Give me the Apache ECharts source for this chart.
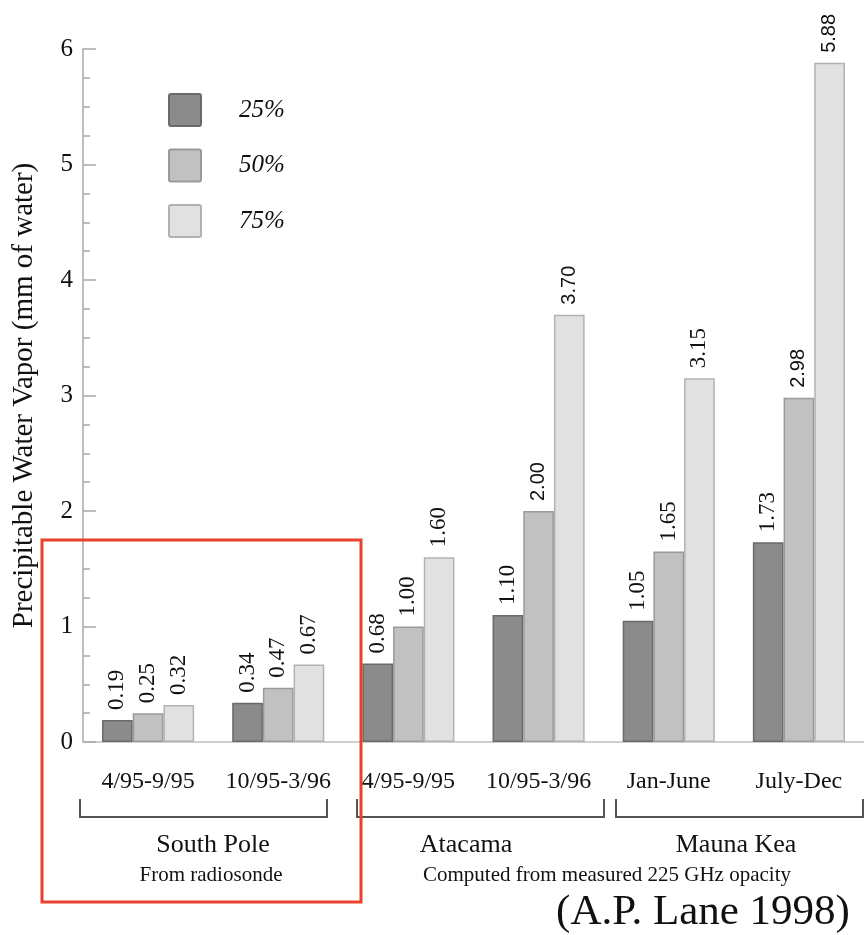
<!DOCTYPE html>
<html>
<head>
<meta charset="utf-8">
<script src="https://cdn.jsdelivr.net/npm/echarts@6/dist/echarts.min.js"></script>
<style>html,body{margin:0;padding:0;background:#fff}#c{width:864px;height:935px}</style>
</head>
<body>
<div id="c"></div>
<script>
const categories = ['4/95-9/95', '10/95-3/96', '4/95-9/95', '10/95-3/96', 'Jan-June', 'July-Dec'];
const seriesNames = ['25%', '50%', '75%'];
const p25 = [0.19, 0.34, 0.68, 1.10, 1.05, 1.73];
const p50 = [0.25, 0.47, 1.00, 2.00, 1.65, 2.98];
const p75 = [0.32, 0.67, 1.60, 3.70, 3.15, 5.88];
const yTicks = [0, 1, 2, 3, 4, 5, 6];

const SERIF = '"Liberation Serif", "Times New Roman", serif';
const SANS = '"Liberation Sans", Arial, sans-serif';
const fills = ['#8b8b8b', '#c1c1c1', '#e1e1e1'];
const borders = ['#6a6a6a', '#9a9a9a', '#b2b2b2'];
const sansIdx = [[], [3, 5], [3, 5]];

const chart = echarts.init(document.getElementById('c'), null, {renderer: 'canvas'});

function mkSeries(name, vals, k) {
  return {
    name: name,
    type: 'bar',
    barWidth: 30.7,
    barGap: '0%',
    data: vals.map((v, i) => sansIdx[k].includes(i)
      ? {value: v, label: {fontFamily: SANS, fontSize: 20}}
      : v),
    itemStyle: {color: fills[k], borderColor: borders[k], borderWidth: 1.5},
    label: {
      show: true,
      position: 'top',
      rotate: 90,
      align: 'left',
      verticalAlign: 'middle',
      distance: 10,
      fontFamily: SERIF,
      fontSize: 23,
      color: '#111',
      formatter: p => p.value.toFixed(2)
    }
  };
}

const option = {
  animation: false,
  backgroundColor: '#fff',
  grid: {left: 83, top: 49, width: 784, height: 693},
  legend: {
    orient: 'vertical',
    left: 168,
    top: 93,
    padding: 0,
    itemWidth: 32,
    itemHeight: 32,
    itemGap: 21.5,
    icon: 'path://M2,0 L30,0 Q32,0 32,2 L32,30 Q32,32 30,32 L2,32 Q0,32 0,30 L0,2 Q0,0 2,0 Z',
    data: seriesNames,
    textStyle: {fontFamily: SERIF, fontStyle: 'italic', fontSize: 25, color: '#111', padding: [6, 0, 0, 33], lineHeight: 25}
  },
  xAxis: {
    type: 'category',
    data: categories,
    axisLine: {lineStyle: {color: '#cfcfcf', width: 2}},
    axisTick: {show: false},
    axisLabel: {interval: 0, margin: 28, fontFamily: SERIF, fontSize: 24, color: '#111'}
  },
  yAxis: {
    type: 'value',
    min: yTicks[0],
    max: yTicks[yTicks.length - 1],
    interval: 1,
    name: 'Precipitable Water Vapor (mm of water)',
    nameLocation: 'middle',
    nameRotate: 90,
    nameGap: 44,
    nameTextStyle: {fontFamily: SERIF, fontSize: 29, color: '#111'},
    axisLine: {show: true, lineStyle: {color: '#a8a8a8', width: 1.5}},
    axisTick: {show: true, inside: true, length: 13, lineStyle: {color: '#a8a8a8', width: 1.5}},
    minorTick: {show: true, splitNumber: 4, length: 7, lineStyle: {color: '#a8a8a8', width: 1.5}},
    splitLine: {show: false},
    axisLabel: {margin: 10, fontFamily: SERIF, fontSize: 25, color: '#111'}
  },
  series: [mkSeries(seriesNames[0], p25, 0), mkSeries(seriesNames[1], p50, 1), mkSeries(seriesNames[2], p75, 2)],
  graphic: [
    {type: 'polyline', shape: {points: [[80, 799], [80, 817], [327, 817], [327, 799]]}, style: {stroke: '#555', lineWidth: 2, fill: null}},
    {type: 'polyline', shape: {points: [[357, 799], [357, 817], [604, 817], [604, 799]]}, style: {stroke: '#555', lineWidth: 2, fill: null}},
    {type: 'polyline', shape: {points: [[616, 799], [616, 817], [863, 817], [863, 799]]}, style: {stroke: '#555', lineWidth: 2, fill: null}},
    {type: 'text', x: 213, y: 845, style: {text: 'South Pole', font: '26px ' + SERIF, fill: '#111', align: 'center', verticalAlign: 'middle'}},
    {type: 'text', x: 211, y: 875, style: {text: 'From radiosonde', font: '21px ' + SERIF, fill: '#111', align: 'center', verticalAlign: 'middle'}},
    {type: 'text', x: 466, y: 845, style: {text: 'Atacama', font: '26px ' + SERIF, fill: '#111', align: 'center', verticalAlign: 'middle'}},
    {type: 'text', x: 736, y: 845, style: {text: 'Mauna Kea', font: '26px ' + SERIF, fill: '#111', align: 'center', verticalAlign: 'middle'}},
    {type: 'text', x: 607, y: 875, style: {text: 'Computed from measured 225 GHz opacity', font: '21px ' + SERIF, fill: '#111', align: 'center', verticalAlign: 'middle'}},
    {type: 'text', x: 703, y: 913, style: {text: '(A.P. Lane 1998)', font: '43px ' + SERIF, fill: '#111', align: 'center', verticalAlign: 'middle'}},
    {type: 'rect', z: 100, shape: {x: 42, y: 540, width: 319, height: 362}, style: {stroke: '#e8412c', lineWidth: 3, fill: null}}
  ]
};
chart.setOption(option);
</script>
</body>
</html>
